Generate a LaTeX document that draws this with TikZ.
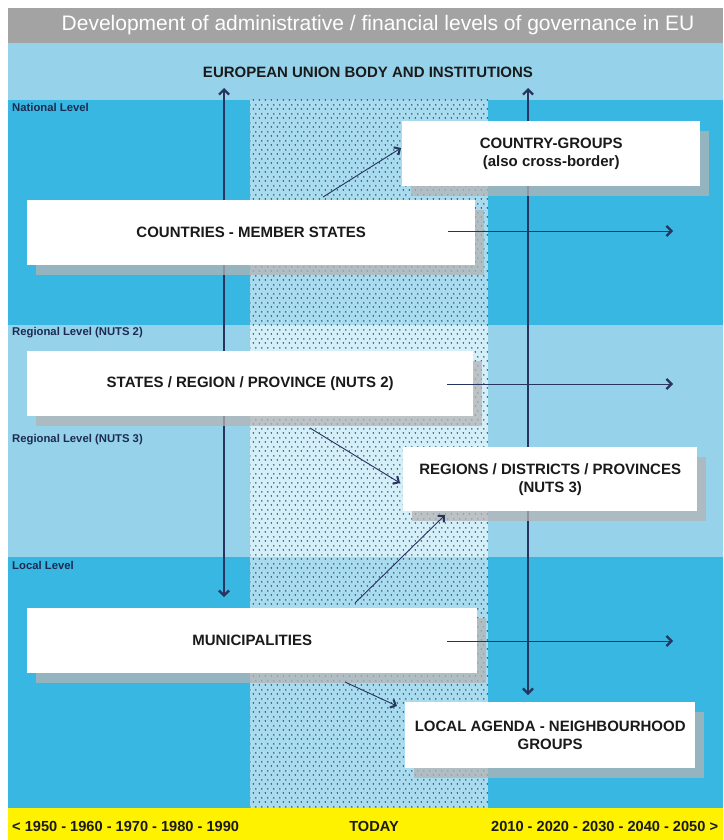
\documentclass[tikz,border=0pt]{standalone}
\usepackage{fontspec}
\setmainfont{Liberation Sans}
\usetikzlibrary{arrows.meta,shadows,patterns.meta}

\definecolor{titlegray}{HTML}{A3A3A3}
\definecolor{bandlight}{HTML}{96D3EB}
\definecolor{banddark}{HTML}{37B7E2}
\definecolor{dotbgA}{HTML}{A8DBEE}
\definecolor{dotbgB}{HTML}{D4EFF8}
\definecolor{dotcol}{HTML}{283663}
\definecolor{eyellow}{HTML}{FFF200}
\definecolor{navy}{HTML}{1E2A50}
\definecolor{arrowcol}{HTML}{27345E}
\definecolor{txt}{HTML}{1A1A1A}
\definecolor{shadowgray}{HTML}{B4B4B4}

\tikzdeclarepattern{
  name=eudots,
  type=colored,
  bottom left={(0pt,0pt)},
  top right={(6pt,9pt)},
  tile size={(6pt,9pt)},
  code={
    \fill[dotcol] (1.5pt,2.25pt) circle (0.9pt);
    \fill[dotcol] (4.5pt,6.75pt) circle (0.9pt);
  }
}

\begin{document}
\begin{tikzpicture}[x=1pt,y=-1pt,
  box/.style={fill=white, draw=none, align=center, anchor=north west,
    font=\fontsize{15}{18}\selectfont\bfseries, text=txt, inner sep=0pt,
    drop shadow={shadow xshift=9pt, shadow yshift=-10pt, fill=shadowgray, opacity=0.75}},
  lvl/.style={anchor=west, font=\fontsize{11.3}{13}\selectfont\bfseries, text=navy, inner sep=0pt},
  bar/.style={anchor=west, font=\fontsize{14.6}{18}\selectfont\bfseries, text=txt, inner sep=0pt},
  chev/.style={-{Straight Barb[length=5pt,width=10pt,line width=2.2pt]}},
  dchev/.style={{Straight Barb[length=5pt,width=10pt,line width=2.2pt]}-{Straight Barb[length=5pt,width=10pt,line width=2.2pt]}},
  conn/.style={draw=arrowcol, line width=1.1pt},
  diag/.style={draw=arrowcol, line width=0.9pt, -{Straight Barb[length=4.5pt,width=9pt,line width=2pt]}}
]
\useasboundingbox (0,0) rectangle (723,840);
\fill[white] (0,0) rectangle (723,840);

% title bar and EU band
\fill[titlegray] (8,8) rectangle (723,43);
\fill[bandlight] (8,43) rectangle (723,100);

% national band
\fill[banddark] (8,100) rectangle (723,325);
\fill[dotbgA] (250,100) rectangle (488,325);
% regional band
\fill[bandlight] (8,325) rectangle (723,557);
\fill[dotbgB] (250,325) rectangle (488,557);
% local band
\fill[banddark] (8,557) rectangle (723,808);
\fill[dotbgA] (250,557) rectangle (488,808);
% dots
\fill[pattern=eudots] (250,100) rectangle (488,808);
% yellow time bar
\fill[eyellow] (8,808) rectangle (723,840);

% texts
\node[font=\fontsize{21}{24}\selectfont, text=white, inner sep=0pt] (title) at (378,25)
  {Development of administrative / financial levels of governance in EU};
\node[font=\fontsize{15}{18}\selectfont\bfseries, text=txt, inner sep=0pt] (eu) at (368,72)
  {EUROPEAN UNION BODY AND INSTITUTIONS};

\node[lvl] (lnat) at (12,107) {National Level};
\node[lvl] (lr2) at (12,333) {Regional Level (NUTS 2)};
\node[lvl] (lr3) at (12,440) {Regional Level (NUTS 3)};
\node[lvl] (lloc) at (12,565) {Local Level};

\node[bar] (past) at (12,826) {< 1950 - 1960 - 1970 - 1980 - 1990};
\node[bar, anchor=center] (today) at (374,826) {TODAY};
\node[bar] (future) at (491,826) {2010 - 2020 - 2030 - 2040 - 2050 >};

% vertical arrows (behind boxes)
\coordinate (vLtop) at (224,88);
\coordinate (vLbot) at (224,597);
\coordinate (vRtop) at (528,88);
\coordinate (vRbot) at (528,695);
\draw[conn, dchev] (vLtop) -- (vLbot);
\draw[conn, dchev] (vRtop) -- (vRbot);

% boxes
\node[box, minimum width=298pt, minimum height=65pt] (cg) at (402,121)
  {COUNTRY-GROUPS\\(also cross-border)};
\node[box, minimum width=448pt, minimum height=65pt] (cms) at (27,200)
  {COUNTRIES - MEMBER STATES};
\node[box, minimum width=446pt, minimum height=65pt] (srp) at (27,351)
  {STATES / REGION / PROVINCE (NUTS 2)};
\node[box, minimum width=294pt, minimum height=64pt] (rdp) at (403,447)
  {REGIONS / DISTRICTS / PROVINCES\\(NUTS 3)};
\node[box, minimum width=450pt, minimum height=65pt] (mun) at (27,608)
  {MUNICIPALITIES};
\node[box, minimum width=290pt, minimum height=66pt] (lan) at (405,702)
  {LOCAL AGENDA - NEIGHBOURHOOD\\GROUPS};

% horizontal arrows into the future
\coordinate (h1s) at (448,231);
\coordinate (h1e) at (673,231);
\coordinate (h2s) at (447,384);
\coordinate (h2e) at (673,384);
\coordinate (h3s) at (447,641);
\coordinate (h3e) at (673,641);
\draw[conn, line width=1pt, chev] (h1s) -- (h1e);
\draw[conn, line width=1pt, chev] (h2s) -- (h2e);
\draw[conn, line width=1pt, chev] (h3s) -- (h3e);

% diagonal arrows
\coordinate (d1s) at (323,197);
\coordinate (d1e) at (401,148);
\coordinate (d2s) at (310,428);
\coordinate (d2e) at (400,483);
\coordinate (d3s) at (355,603);
\coordinate (d3e) at (445,515);
\coordinate (d4s) at (345,682);
\coordinate (d4e) at (397,706);
\draw[diag] (d1s) -- (d1e);
\draw[diag] (d2s) -- (d2e);
\draw[diag] (d3s) -- (d3e);
\draw[diag] (d4s) -- (d4e);
\end{tikzpicture}
\end{document}
